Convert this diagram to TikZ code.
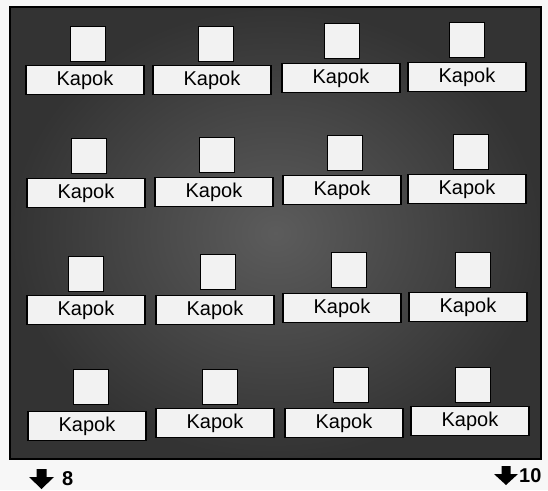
\documentclass[tikz,border=0pt]{standalone}
\usepackage{fontspec}
\setmainfont{Liberation Sans}
\begin{document}
\begin{tikzpicture}[x=1pt,y=-1pt,
  labelbox/.style={draw=black,line width=1.6pt,fill=white!95!black,minimum width=118pt,minimum height=29pt,inner sep=0pt,font=\fontsize{20}{22}\selectfont},
  sqbox/.style={draw=black,line width=1.6pt,fill=white!95!black,minimum width=35pt,minimum height=35pt,inner sep=0pt},
  numlabel/.style={font=\fontsize{20}{22}\selectfont\bfseries,inner sep=0pt,anchor=west},
  bigarrow/.style={fill=black}]
\useasboundingbox (0,0) rectangle (548,490);
\fill[white!97!black] (0,0) rectangle (548,490);
% dark background panel
\shade[inner color=black!64,outer color=black!80] (10,7) rectangle (541,459);
\draw[line width=2.5pt,black] (10,7) rectangle (541,459);
% squares
\foreach \x/\y [count=\i] in {88/44,216/44,342/41,467/40,
  89/156,217/155,345/153,471/152,
  86/274,218/272,349/270,473/270,
  91/387,220/387,351/385,473/385}
  \node[sqbox] (s\i) at (\x,\y) {};
% labels
\foreach \x/\y [count=\i] in {85/80,212/80,341/78,467/77,
  86/193,214/192,342/190,467/189,
  86/310,215/310,342/308,468/307,
  87/426,215/423,344/423,470/421}
  \node[labelbox] (k\i) at (\x,\y) {Kapok};
% bottom arrows and numbers
\fill[bigarrow] (36.5,469) -- (46.5,469) -- (46.5,477) -- (54,477) -- (41.5,489) -- (29,477) -- (36.5,477) -- cycle;
\node[numlabel] (n8) at (62,479) {8};
\fill[bigarrow] (501.5,466) -- (510.5,466) -- (510.5,474) -- (518,474) -- (506,485) -- (494,474) -- (501.5,474) -- cycle;
\node[numlabel] (n10) at (519,476) {10};
\end{tikzpicture}
\end{document}
